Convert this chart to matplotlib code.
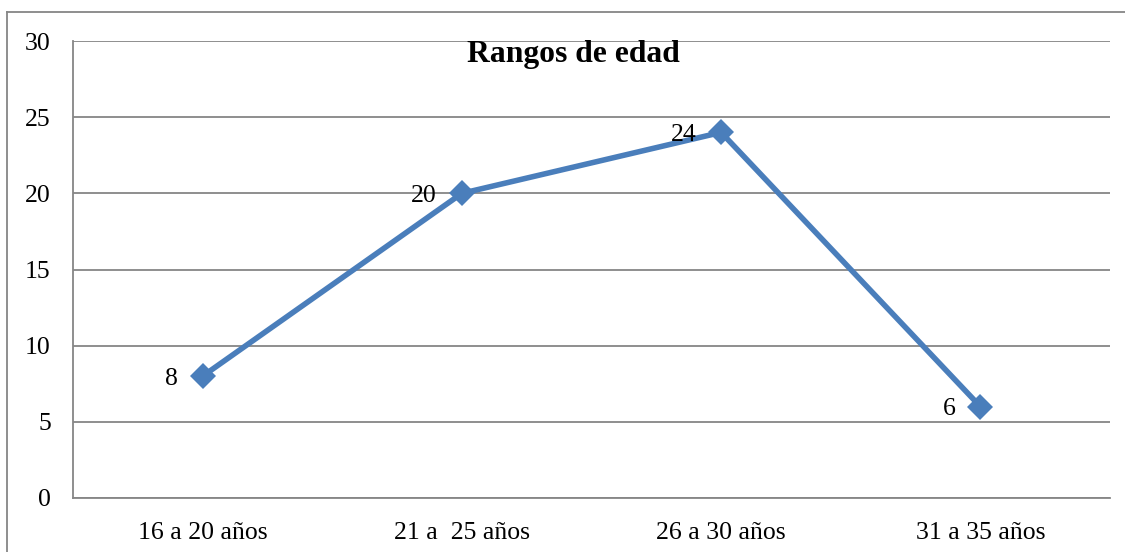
import matplotlib
matplotlib.use("Agg")
import matplotlib.pyplot as plt
from matplotlib.lines import Line2D

# data
categorias = ["16 a 20 años", "21 a  25 años", "26 a 30 años", "31 a 35 años"]
valores = [8, 20, 24, 6]
y_ticks = [0, 5, 10, 15, 20, 25, 30]

plt.rcParams['font.family'] = ['Liberation Serif', 'DejaVu Serif']

fig = plt.figure(figsize=(11.25, 5.52), dpi=100)
ax = fig.add_axes([73/1125, 54/552, (1110-73)/1125, (498-41)/552])

x = list(range(len(categorias)))
ax.plot(x, valores, color='#4a7ebb', linewidth=4, marker='D', markersize=13,
        markeredgewidth=0, zorder=3)

# data labels to the left of each point
for xi, v in zip(x, valores):
    ax.annotate(str(v), (xi, v), xytext=(-18, 0), textcoords='offset points',
                ha='right', va='center_baseline', fontsize=18.5, color='black', zorder=4)

ax.set_xlim(-0.5, len(categorias) - 0.5)
ax.set_ylim(0, 30)
ax.set_yticks(y_ticks)
ax.set_xticks(x)
ax.set_xticklabels(categorias)
ax.tick_params(axis='both', length=0, labelsize=18.5, colors='black')
ax.tick_params(axis='y', pad=16)
ax.tick_params(axis='x', pad=17)

ax.yaxis.grid(True, color='#868686', linewidth=1.3)
ax.set_axisbelow(True)
for s in ['top', 'right']:
    ax.spines[s].set_visible(False)
for s in ['left', 'bottom']:
    ax.spines[s].set_color('#868686')
    ax.spines[s].set_linewidth(1.3)

ax.text(0.483, 0.954, "Rangos de edad", transform=ax.transAxes, ha='center', va='baseline',
        fontsize=22.8, fontweight='bold')

# outer chart border (left and top edges visible)
fig.add_artist(Line2D([7/1125, 7/1125], [0, 1 - 12/552], color='#868686', linewidth=1.3))
fig.add_artist(Line2D([7/1125, 1], [1 - 12/552, 1 - 12/552], color='#868686', linewidth=1.3))

fig.savefig("out.png", dpi=100)
